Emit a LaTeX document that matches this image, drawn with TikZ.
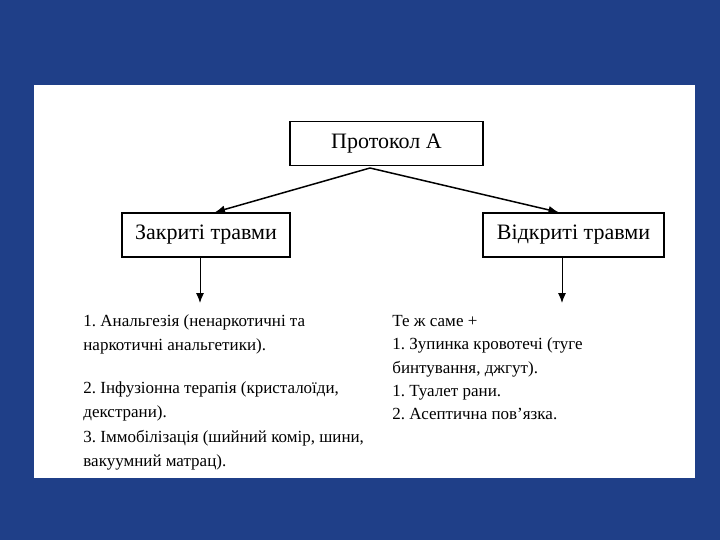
\documentclass[tikz,border=0pt]{standalone}
\usepackage{xcolor}
\usepackage{fontspec}
\setmainfont{Liberation Serif}
\usepackage{tikz}
\usetikzlibrary{arrows.meta,positioning}
\frenchspacing

\definecolor{slideblue}{RGB}{31,63,136}

\begin{document}
\begin{tikzpicture}[x=1pt, y=-1pt, >={Latex[length=10pt,width=8pt]}, thick]
    \tikzstyle{every node}=[inner sep=0pt]
    \tikzstyle{box}=[draw, line width=1.6pt, minimum height=44pt, font=\fontsize{22}{26}\selectfont]
    \tikzstyle{items}=[anchor=north west, align=left, font=\fontsize{17}{24.5}\selectfont]

    % slide and white sheet
    \fill[slideblue] (0,0) rectangle (720,540);
    \fill[white] (34,85) rectangle (695,478);

    \node[box, minimum width=193pt] (protokol) at (386.5,143.5) {Протокол А};
    \node[box, minimum width=168pt] (zakryti) at (206,235) {Закриті травми};
    \node[box, minimum width=181pt] (vidkryti) at (573.5,235) {Відкриті травми};

    \coordinate (split) at (370,168);
    \coordinate (zakryti end) at (200,303);
    \coordinate (vidkryti end) at (562,303);

    \node[items] (zakryti list) at (83,314) {1. Анальгезія (ненаркотичні та\\
        наркотичні анальгетики).\\[18pt]
        2. Інфузіонна терапія (кристалоїди,\\
        декстрани).\\
        3. Іммобілізація (шийний комір, шини,\\
        вакуумний матрац).};
    \node[items, font=\fontsize{17}{23.3}\selectfont] (vidkryti list) at (392,315) {Те ж саме +\\
        1. Зупинка кровотечі (туге\\
        бинтування, джгут).\\
        1. Туалет рани.\\
        2. Асептична пов’язка.};

    \path[->, line width=1.5pt]
    (split) edge [] ([xshift=9pt]zakryti.north)
    (split) edge [] ([xshift=-15pt]vidkryti.north);
    \path[->, line width=1pt]
    (zakryti.south -| zakryti end) edge [] (zakryti end)
    (vidkryti.south -| vidkryti end) edge [] (vidkryti end);

\end{tikzpicture}
\end{document}
